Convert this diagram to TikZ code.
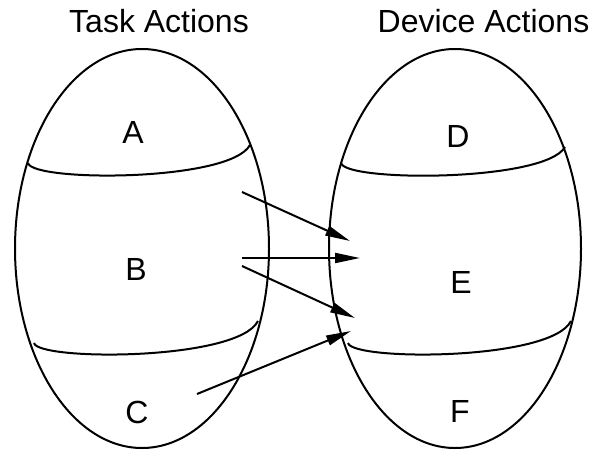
\documentclass[tikz,border=0pt]{standalone}
\usepackage{fontspec}
\setmainfont{Liberation Sans}
\usetikzlibrary{shapes.geometric,arrows.meta}
\begin{document}
\begin{tikzpicture}[x=1pt,y=-1pt,
  lbl/.style={anchor=base,inner sep=0pt,font=\fontsize{32}{38}\selectfont},
  setshape/.style={draw,ellipse,line width=2pt,inner sep=0pt,outer sep=0pt},
  divider/.style={line width=2pt},
  link/.style={line width=2pt,-{Triangle[length=25pt,width=10pt]}}]
\useasboundingbox (0,0) rectangle (589,450);
% sets
\node[setshape,minimum width=254pt,minimum height=399pt] (L) at (142,248.5) {};
\node[setshape,minimum width=252pt,minimum height=399pt] (R) at (455,248.5) {};
% titles
\node[lbl] (tl) at (159,32) {Task Actions};
\node[lbl] (tr) at (483.5,32) {Device Actions};
% dividers
\draw[divider] (28,163) .. controls (32,182) and (230,182) .. (250,145);
\draw[divider] (34,343) .. controls (38,361) and (238,361) .. (258,321);
\draw[divider] (341,163) .. controls (345,182) and (545,182) .. (565,147);
\draw[divider] (348,343) .. controls (352,361) and (551,361) .. (571,321);
% labels
\node[lbl] (A) at (133,143) {A};
\node[lbl] (B) at (136,280) {B};
\node[lbl] (C) at (137,423) {C};
\node[lbl] (D) at (458,147) {D};
\node[lbl] (E) at (461,293) {E};
\node[lbl] (F) at (460,422) {F};
% connector ends
\coordinate (s1) at (242,192);
\coordinate (s2) at (242,258);
\coordinate (s3) at (242,266);
\coordinate (s4) at (197,394);
\coordinate (e1) at (350,241);
\coordinate (e2) at (360,258);
\coordinate (e3) at (355,318);
\coordinate (e4) at (351,331);
\draw[link] (s1) -- (e1);
\draw[link] (s2) -- (e2);
\draw[link] (s3) -- (e3);
\draw[link] (s4) -- (e4);
\end{tikzpicture}
\end{document}
